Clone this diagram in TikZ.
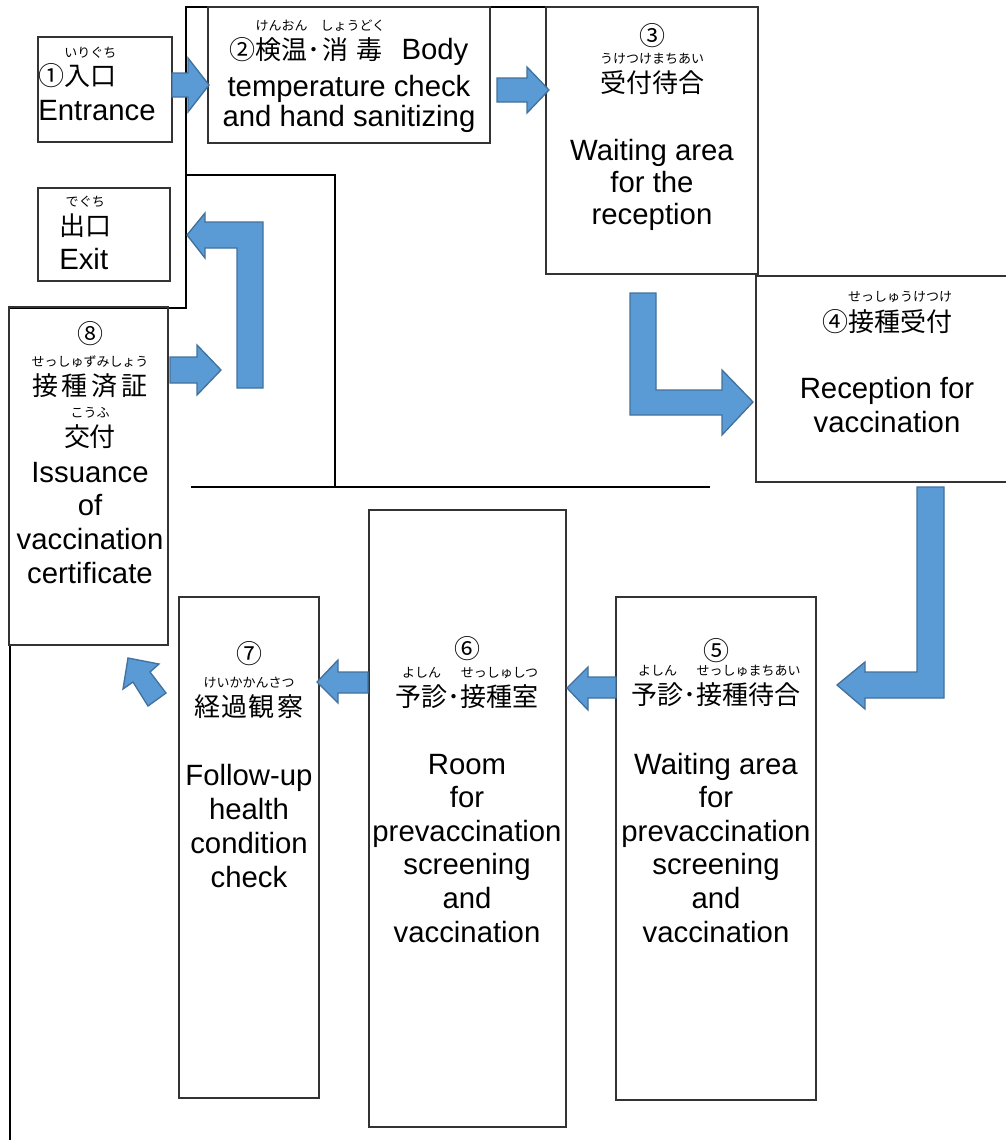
\documentclass[tikz,border=0pt]{standalone}
\usepackage{fontspec}
\setmainfont{Liberation Sans}
\newfontfamily\jp{Noto Sans CJK JP}
\usetikzlibrary{fit}
\definecolor{arrowfill}{RGB}{91,155,213}
\definecolor{arrowline}{RGB}{65,113,156}

\newcommand{\en}{\fontsize{22}{25.2}\selectfont}
\newcommand{\jpbig}{\jp\fontsize{19.5}{22}\selectfont}
\newcommand{\rbfont}{\jp\fontsize{9.75}{10}\selectfont}
% base text with its reading set above it
\newcommand{\furi}[2]{\leavevmode\vbox{\offinterlineskip\halign{\hfil##\hfil\cr{\rbfont #2}\cr\noalign{\kern4.5pt}#1\cr}}}

\tikzset{
  room/.style={draw=black!80, line width=0.8pt, inner sep=0pt},
  wall/.style={draw=black, line width=0.8pt},
  thickwall/.style={draw=black, line width=1.5pt},
  blockarrow/.style={fill=arrowfill, draw=arrowline, line width=1pt, line join=miter},
  entext/.style={align=center, inner sep=0pt, font=\en, anchor=base},
  jptext/.style={inner sep=0pt, font=\jpbig, anchor=base},
}

\begin{document}
\begin{tikzpicture}[x=0.75pt,y=0.75pt,yscale=-1,xscale=1]
    \useasboundingbox (0,0) rectangle (1006,1140);

    %Straight Lines
    \draw [wall] (10,308) -- (186,308) -- (186,7) -- (620,7) ;
    %Straight Lines
    \draw [wall] (186,175) -- (335,175) -- (335,487) ;
    %Straight Lines
    \draw [thickwall] (191,487) -- (710,487) ;
    %Straight Lines
    \draw [thickwall] (10,645) -- (10,1140) ;

    %Shape: Rectangle
    \node [room, fit={(38,37) (172,142)}] (entrance) {};
    \node [room, fit={(208,7) (490,143)}] (bodycheck) {};
    \node [room, fit={(546,7) (758,274)}] (waitrecept) {};
    \node [room, fit={(756,276) (1012,482)}] (reception) {};
    \node [room, fit={(616,597) (816,1100)}] (waitscreen) {};
    \node [room, fit={(369,510) (566,1127)}] (screenroom) {};
    \node [room, fit={(179,597) (319,1098)}] (followup) {};
    \node [room, fit={(9,307) (168,645)}] (certificate) {};
    \node [room, fit={(38,188) (170,281)}] (exit) {};

    %Shape: Right Arrow
    \draw [blockarrow] (172,73) -- (188,73) -- (188,58) -- (209,85) -- (188,112) -- (188,97) -- (172,97) -- cycle ;
    %Shape: Right Arrow
    \draw [blockarrow] (497,78) -- (527,78) -- (527,67) -- (549,90) -- (527,113) -- (527,102) -- (497,102) -- cycle ;
    %Shape: Bent Arrow
    \draw [blockarrow] (630,293) -- (656,293) -- (656,390) -- (722,390) -- (722,370) -- (753,402) -- (722,435) -- (722,415) -- (630,415) -- cycle ;
    %Shape: Bent Arrow
    \draw [blockarrow] (917,487) -- (944,487) -- (944,698) -- (865,698) -- (865,709) -- (837,685) -- (865,662) -- (865,672) -- (917,672) -- cycle ;
    %Shape: Left Arrow
    \draw [blockarrow] (616,677) -- (588,677) -- (588,667) -- (567,688) -- (588,710) -- (588,698) -- (616,698) -- cycle ;
    %Shape: Left Arrow
    \draw [blockarrow] (368,672) -- (338,672) -- (338,660) -- (317,682) -- (338,703) -- (338,693) -- (368,693) -- cycle ;
    %Shape: Up-Left Arrow
    \draw [blockarrow] (128,658) -- (159,664) -- (150,672) -- (166,693) -- (148,706) -- (133,682) -- (123,689) -- cycle ;
    %Shape: Right Arrow
    \draw [blockarrow] (170,357) -- (197,357) -- (197,345) -- (221,370) -- (197,395) -- (197,383) -- (170,383) -- cycle ;
    %Shape: Bent Arrow
    \draw [blockarrow] (237,388) -- (263,388) -- (263,222) -- (205,222) -- (205,213) -- (187,235) -- (205,258) -- (205,248) -- (237,248) -- cycle ;

    % Text Node
    \node [jptext, anchor=base west] (entrancejp) at (38,85) {①\furi{入口}{いりぐち}};
    \node [entext, anchor=base west] (entranceen) at (38,120) {Entrance};
    % Text Node
    \node [entext] (bodycheckjp) at (349,59) {{\jpbig ②\furi{検温}{けんおん}･\furi{消\kern6pt毒}{しょうどく}}\ \ Body};
    \node [entext, font=\fontsize{22}{22.5}\selectfont] (bodycheckjp) at (349,126) {temperature check\\and hand sanitizing};
    % Text Node
    \node [jptext] (waitreceptno) at (652,45) {③};
    \node [jptext] (waitreceptjp) at (652,92) {\furi{受付待合}{うけつけまちあい}};
    \node [entext, font=\fontsize{22}{24}\selectfont] (waitrecepten) at (652,224) {Waiting area\\for the\\reception};
    % Text Node
    \node [jptext] (receptionjp) at (887,331) {④\furi{接種受付}{せっしゅうけつけ}};
    \node [entext, font=\fontsize{22}{25.5}\selectfont] (receptionen) at (887,432) {Reception for\\vaccination};
    % Text Node
    \node [jptext] (waitscreenno) at (716,660) {⑤};
    \node [jptext] (waitscreenjp) at (716,704) {\furi{予診}{よしん}･\furi{接種待合}{せっしゅまちあい}};
    \node [entext] (waitscreenen) at (716,942) {Waiting area\\for\\prevaccination\\screening\\and\\vaccination};
    % Text Node
    \node [jptext] (screenroomno) at (467,658) {⑥};
    \node [jptext] (screenroomjp) at (467,706) {\furi{予診}{よしん}･\furi{接種室}{せっしゅしつ}};
    \node [entext] (screenroomen) at (467,942) {Room\\for\\prevaccination\\screening\\and\\vaccination};
    % Text Node
    \node [jptext] (followupno) at (249,663) {⑦};
    \node [jptext] (followupjp) at (249,716) {\furi{経\kern1pt過\kern1pt観\kern2pt察}{けいかかんさつ}};
    \node [entext, font=\fontsize{22}{25.5}\selectfont] (followupen) at (249,887) {Follow-up\\health\\condition\\check};
    % Text Node
    \node [jptext] (certificateno) at (90,343) {⑧};
    \node [jptext] (certificatejp) at (90,395) {\furi{接\kern3pt種\kern3pt済\kern3pt証}{せっしゅずみしょう}};
    \node [jptext] (issuejp) at (90,446) {\furi{交付}{こうふ}};
    \node [entext] (certificateen) at (90,583) {Issuance\\of\\vaccination\\certificate};
    % Text Node
    \node [jptext, anchor=base west] (exitjp) at (59,235) {\furi{出口}{でぐち}};
    \node [entext, anchor=base west] (exiten) at (59,269) {Exit};

\end{tikzpicture}
\end{document}
